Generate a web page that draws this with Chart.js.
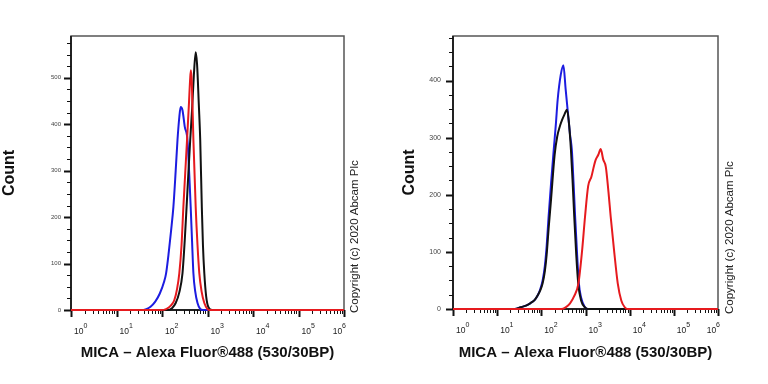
<!DOCTYPE html>
<html><head><meta charset="utf-8">
<script src="https://cdn.jsdelivr.net/npm/chart.js@4/dist/chart.umd.min.js"></script>
<style>
html,body{margin:0;padding:0;background:#fff;}
#wrap{position:relative;width:768px;height:384px;overflow:hidden;}
canvas{position:absolute;top:0;}
</style></head><body>
<div id="wrap">
<canvas id="c1" width="384" height="384" style="left:0"></canvas>
<canvas id="c2" width="384" height="384" style="left:384px"></canvas>
</div>
<script>
// ---------- data (fluorescence intensity, count) ----------
const leftBlueX  = [1, 35, 45, 56, 71, 89, 112, 123, 141, 158, 178, 200, 219, 240, 257, 282, 316, 363, 398, 427, 457, 490, 537, 603, 692, 794, 1000000];
const leftBlueY  = [0, 0, 2, 7, 18, 35, 62, 79, 125, 170, 222, 300, 366, 415, 437, 430, 395, 366, 290, 222, 150, 79, 40, 15, 2, 0, 0];
const leftRedX   = [1, 95, 123, 158, 186, 214, 240, 269, 295, 324, 355, 389, 417, 432, 452, 490, 550, 603, 661, 741, 851, 1000, 1122, 1000000];
const leftRedY   = [0, 0, 2, 10, 21, 45, 79, 140, 222, 295, 366, 440, 500, 516, 490, 366, 222, 140, 79, 40, 15, 2, 0, 0];
const leftBlackX = [1, 132, 166, 200, 240, 282, 316, 347, 380, 417, 457, 501, 550, 589, 646, 692, 750, 794, 851, 933, 1047, 1259, 1000000];
const leftBlackY = [0, 0, 4, 15, 38, 79, 150, 222, 295, 366, 430, 505, 555, 530, 440, 366, 222, 140, 79, 30, 6, 0, 0];

const rightBlueX  = [1, 25, 34, 45, 56, 71, 83, 95, 107, 120, 132, 146, 166, 191, 214, 234, 275, 316, 355, 398, 447, 490, 537, 582, 646, 708, 794, 955, 1122, 1000000];
const rightBlueY  = [0, 0, 3, 6, 10, 16, 24, 35, 50, 75, 110, 162, 220, 279, 325, 366, 410, 427, 385, 345, 305, 279, 220, 162, 95, 45, 20, 4, 0, 0];
const rightBlackX = [1, 25, 34, 45, 56, 71, 83, 95, 107, 120, 132, 146, 166, 200, 229, 263, 295, 331, 380, 417, 468, 513, 556, 617, 684, 794, 1000, 1122, 1000000];
const rightBlackY = [0, 0, 3, 6, 10, 16, 24, 33, 45, 66, 95, 140, 192, 270, 302, 320, 331, 340, 349, 330, 279, 220, 162, 95, 45, 15, 2, 0, 0];
const rightRedX   = [1, 282, 355, 447, 550, 692, 832, 977, 1148, 1365, 1549, 1698, 1950, 2213, 2512, 2884, 3311, 3715, 4416, 5370, 6457, 7762, 8913, 1000000];
const rightRedY   = [0, 0, 3, 10, 22, 45, 100, 162, 215, 232, 250, 261, 270, 280, 262, 249, 205, 162, 104, 45, 15, 3, 0, 0];

const xDecades = [0, 1, 2, 3, 4, 5, 6];
const leftYTicks = [0, 100, 200, 300, 400, 500];
const rightYTicks = [0, 100, 200, 300, 400];
const xTitle = 'MICA – Alexa Fluor®488 (530/30BP)';
const yTitle = 'Count';
const copyright = 'Copyright (c) 2020 Abcam Plc';

// ---------- helpers ----------
const FAM = "'Liberation Sans', Arial, sans-serif";
function pts(xs, ys) { return xs.map((x, i) => ({x: x, y: ys[i]})); }
function ds(xs, ys, color) {
  return {data: pts(xs, ys), borderColor: color, borderWidth: 2, pointRadius: 0,
          showLine: true, fill: false, cubicInterpolationMode: 'monotone', clip: 5};
}

function decorPlugin(o) {
  return {
    id: 'decor',
    beforeDatasetsDraw(chart) {
      const {ctx, chartArea: a, scales: {x, y}} = chart;
      ctx.save();
      ctx.strokeStyle = '#555'; ctx.lineWidth = 1.5;
      ctx.strokeRect(a.left, a.top, a.right - a.left, a.bottom - a.top);
      ctx.strokeStyle = '#222'; ctx.lineWidth = 2;
      ctx.beginPath(); ctx.moveTo(a.left, a.top); ctx.lineTo(a.left, a.bottom); ctx.lineTo(a.right, a.bottom); ctx.stroke();
      // y ticks (major every 100, minor every 25)
      ctx.strokeStyle = '#111';
      for (let v = 0; v <= o.yMax; v += 25) {
        const py = Math.round(y.getPixelForValue(v)) + 0.5;
        const major = v % 100 === 0;
        ctx.lineWidth = major ? 2 : 1;
        ctx.beginPath(); ctx.moveTo(a.left - (major ? 7 : 4), py); ctx.lineTo(a.left, py); ctx.stroke();
      }
      // x ticks (log decades + minors)
      for (const e of xDecades) {
        for (let m = 1; m <= 9; m++) {
          const v = m * Math.pow(10, e);
          if (v > 1e6) break;
          const px = Math.round(x.getPixelForValue(v)) + 0.5;
          const major = m === 1;
          ctx.lineWidth = major ? 2 : 1;
          ctx.beginPath(); ctx.moveTo(px, a.bottom); ctx.lineTo(px, a.bottom + (major ? 7 : 4)); ctx.stroke();
        }
      }
      ctx.restore();
    },
    afterDraw(chart) {
      const {ctx, chartArea: a, scales: {x}} = chart;
      ctx.save();
      ctx.fillStyle = '#222';
      ctx.textBaseline = 'alphabetic';
      for (const e of xDecades) {
        const px = x.getPixelForValue(Math.pow(10, e));
        ctx.font = '8.5px ' + FAM;
        const w = ctx.measureText('10').width;
        ctx.font = '7px ' + FAM;
        const ew = ctx.measureText(String(e)).width;
        let sx = px + 3;
        if (e === 6) sx = px + 2 - (w + ew);
        ctx.font = '8.5px ' + FAM;
        ctx.textAlign = 'left';
        ctx.fillText('10', sx, a.bottom + 24);
        ctx.font = '7px ' + FAM;
        ctx.fillText(String(e), sx + w, a.bottom + 18);
      }
      // copyright
      ctx.translate(o.copyX, o.copyBottom);
      ctx.rotate(-Math.PI / 2);
      ctx.font = '11.5px ' + FAM;
      ctx.fillStyle = '#222';
      ctx.textAlign = 'left';
      ctx.textBaseline = 'middle';
      ctx.fillText(copyright, 0, 0);
      ctx.restore();
    }
  };
}

function makeChart(id, sets, o) {
  return new Chart(document.getElementById(id), {
    type: 'scatter',
    data: {datasets: sets},
    options: {
      responsive: false, animation: false, devicePixelRatio: 1,
      layout: {padding: {left: o.padLeft, right: o.padRight, top: o.padTop, bottom: o.padBottom}},
      plugins: {legend: {display: false}, tooltip: {enabled: false}},
      scales: {
        x: {
          type: 'logarithmic', min: 1, max: 1e6,
          afterFit(s) { s.height = o.xHeight; },
          ticks: {display: false},
          grid: {display: false, drawTicks: false},
          border: {display: false},
          title: {display: true, text: xTitle, color: '#111',
                  font: {family: FAM, size: 15, weight: 'bold'}, padding: {top: 0, bottom: 0}}
        },
        y: {
          type: 'linear', min: 0, max: o.yMax,
          afterFit(s) { s.width = o.yWidth; },
          afterBuildTicks(s) { s.ticks = o.yTicks.map(v => ({value: v})); },
          ticks: {font: {family: FAM, size: o.yFont}, color: '#444', padding: o.yPad},
          grid: {display: false, drawTicks: false},
          border: {display: false},
          title: {display: true, text: yTitle, color: '#111',
                  font: {family: FAM, size: 16, weight: 'bold'}, padding: {top: 0, bottom: 0}}
        }
      }
    },
    plugins: [decorPlugin(o)]
  });
}

// dataset 0 is drawn on top: red, then black, then blue underneath
makeChart('c1', [
  ds(leftRedX, leftRedY, '#e61a1e'),
  ds(leftBlackX, leftBlackY, '#111111'),
  ds(leftBlueX, leftBlueY, '#1c1ce0')
], {padLeft: 0, padRight: 40, padTop: 36, padBottom: 22, xHeight: 52, yWidth: 71,
    yMax: 590, yTicks: leftYTicks, yFont: 6, yPad: 10, copyX: 355, copyBottom: 313});

makeChart('c2', [
  ds(rightRedX, rightRedY, '#e61a1e'),
  ds(rightBlackX, rightBlackY, '#111111'),
  ds(rightBlueX, rightBlueY, '#1c1ce0')
], {padLeft: 16, padRight: 50, padTop: 36, padBottom: 22, xHeight: 53, yWidth: 53,
    yMax: 478, yTicks: rightYTicks, yFont: 7, yPad: 12, copyX: 346, copyBottom: 314});
</script>
</body></html>
